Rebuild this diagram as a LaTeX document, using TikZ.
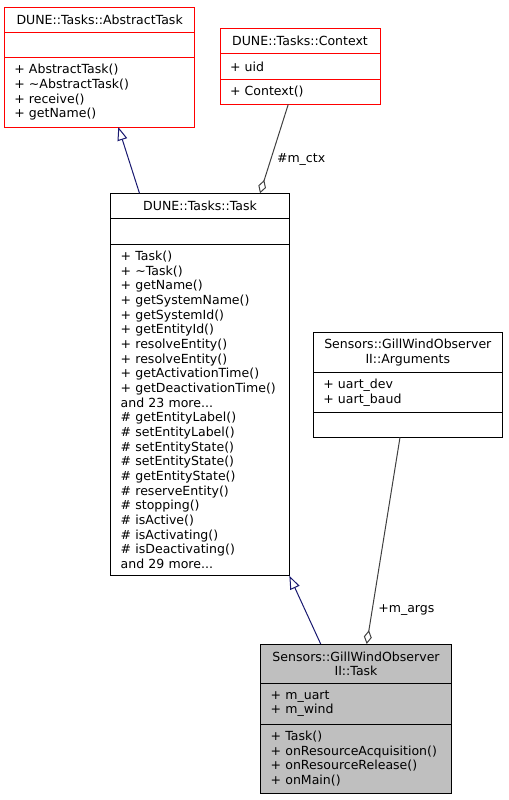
\documentclass[tikz,border=0pt]{standalone}
\usepackage{fontspec}
\setmainfont{DejaVu Sans}
\usetikzlibrary{arrows.meta,positioning}
\definecolor{ExternalClr}{rgb}{1,0,0}
\definecolor{InheritClr}{HTML}{191970}
\definecolor{UsageClr}{HTML}{404040}
\definecolor{CurrentClr}{HTML}{BFBFBF}
\setlength{\lineskiplimit}{-10pt}

\begin{document}
\begin{tikzpicture}[x=0.75pt,y=-0.75pt,
  member/.style={draw=black,line width=0.75pt,outer sep=0pt,inner xsep=7.5pt,inner ysep=1pt,
    align=left,font=\fontsize{9.4}{11}\selectfont},
  header/.style={member,align=center},
  external/.style={draw=ExternalClr},
  current/.style={fill=CurrentClr},
  inherit/.style={draw=InheritClr,line width=0.75pt,-{Triangle[open,length=10pt,width=7.5pt]}},
  usage/.style={draw=UsageClr,line width=0.75pt,{Diamond[open,length=10.5pt,width=6pt]}-},
  role/.style={font=\fontsize{9.4}{11}\selectfont,anchor=west,inner sep=0pt}]
\useasboundingbox (0,0) rectangle (508,800);

% DUNE::Tasks::AbstractTask
\node[header,external,anchor=north west,text width=128pt,minimum height=19pt] (abst) at (4.3,7) {DUNE::Tasks::AbstractTask};
\node[member,external,below=0pt of abst,text width=128pt,minimum height=19pt] (absa) {};
\node[member,external,below=0pt of absa,text width=128pt,minimum height=52pt] (absm)
  {+ AbstractTask()\\+ \textasciitilde AbstractTask()\\+ receive()\\+ getName()};

% DUNE::Tasks::Context
\node[header,external,anchor=north west,text width=105pt,minimum height=18.75pt] (ctxt) at (220,28.7) {DUNE::Tasks::Context};
\node[member,external,below=0pt of ctxt,text width=105pt,minimum height=19.2pt] (ctxa) {+ uid};
\node[member,external,below=0pt of ctxa,text width=105pt,minimum height=18.75pt] (ctxm) {+ Context()};

% DUNE::Tasks::Task
\node[header,anchor=north west,text width=119pt,minimum height=18.75pt] (taskt) at (110.7,193.3) {DUNE::Tasks::Task};
\node[member,below=0pt of taskt,text width=119pt,minimum height=19.3pt] (taska) {};
\node[member,below=0pt of taska,text width=119pt,minimum height=248.8pt] (taskm)
  {+ Task()\\+ \textasciitilde Task()\\+ getName()\\+ getSystemName()\\+ getSystemId()\\
   + getEntityId()\\+ resolveEntity()\\+ resolveEntity()\\+ getActivationTime()\\
   + getDeactivationTime()\\and 23 more...\\\# getEntityLabel()\\\# setEntityLabel()\\
   \# setEntityState()\\\# setEntityState()\\\# getEntityState()\\\# reserveEntity()\\
   \# stopping()\\\# isActive()\\\# isActivating()\\\# isDeactivating()\\and 29 more...};

% Sensors::GillWindObserverII::Arguments
\node[header,anchor=north west,text width=126.75pt,minimum height=29.7pt] (argst) at (313.3,332.7)
  {Sensors::GillWindObserver\\II::Arguments};
\node[member,below=0pt of argst,text width=126.75pt,minimum height=30.3pt] (argsa) {+ uart\_dev\\+ uart\_baud};
\node[member,below=0pt of argsa,text width=126.75pt,minimum height=18.5pt] (argsm) {};

% Sensors::GillWindObserverII::Task
\node[header,current,anchor=north west,text width=128pt,minimum height=29.5pt] (gwot) at (260.7,644)
  {Sensors::GillWindObserver\\II::Task};
\node[member,current,below=0pt of gwot,text width=128pt,minimum height=30.5pt] (gwoa) {+ m\_uart\\+ m\_wind};
\node[member,current,below=0pt of gwoa,text width=128pt,minimum height=52pt] (gwom)
  {+ Task()\\+ onResourceAcquisition()\\+ onResourceRelease()\\+ onMain()};

% inheritance
\draw[inherit] ([xshift=-45.4pt]taskt.north) -- ([xshift=14pt]absm.south);
\draw[inherit] ([xshift=-26.5pt]gwot.north) -- (taskm.south east);

% usage
\draw[usage] ([xshift=45pt]taskt.north) -- ([xshift=-8.8pt]ctxm.south)
  node[role,pos=0.385,xshift=4.2pt] (ctxrole) {\#m\_ctx};
\draw[usage] ([xshift=8pt]gwot.north) -- ([xshift=-5.85pt]argsm.south)
  node[role,pos=0.165,xshift=4.2pt] (argsrole) {+m\_args};

\end{tikzpicture}
\end{document}
